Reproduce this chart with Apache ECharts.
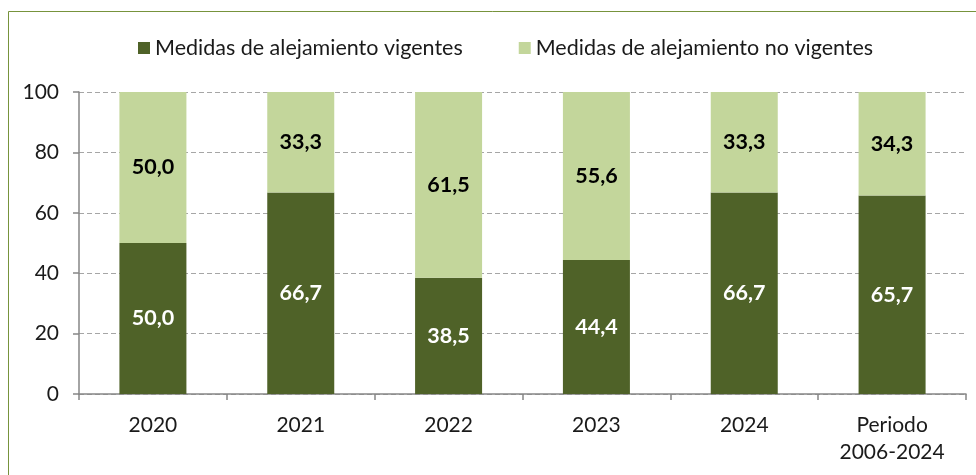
<!DOCTYPE html>
<html>
<head>
    <meta charset="utf-8">
    <title>medidas</title>
    <script src="https://cdn.jsdelivr.net/npm/echarts@6/dist/echarts.min.js"></script>
</head>
<body style="margin:0">
    <div id="main" style="height: 475px; width: 976px;"></div>
    <script type="text/javascript">
    var categorias = ['2020', '2021', '2022', '2023', '2024', 'Periodo\n2006-2024'];
    var vigentes = [50.0, 66.7, 38.5, 44.4, 66.7, 65.7];
    var noVigentes = [50.0, 33.3, 61.5, 55.6, 33.3, 34.3];

    var fuente = 'Lato, "Open Sans", sans-serif';
    var fmt = function(p) { return p.value.toFixed(1).replace('.', ','); };

    var myChart = echarts.init(document.getElementById('main'));
    var option = {
        animation: false,
        textStyle: { fontFamily: fuente },
        graphic: [{
            type: 'rect',
            shape: { x: 8.5, y: 11.5, width: 1000, height: 500 },
            style: { fill: 'none', stroke: '#77933c', lineWidth: 1 }
        }],
        legend: {
            top: 32,
            left: 133,
            itemGap: 56,
            itemWidth: 12,
            itemHeight: 12,
            icon: 'rect',
            textStyle: { fontSize: 21.5, color: '#1a1a1a', fontFamily: fuente }
        },
        grid: {
            left: 79,
            right: 10,
            top: 92,
            bottom: 81
        },
        xAxis: {
            type: 'category',
            data: categorias,
            axisLine: { lineStyle: { color: '#868686', width: 1.5 } },
            axisTick: { show: true, length: 6, lineStyle: { color: '#868686', width: 1.5 } },
            axisLabel: { fontSize: 21, color: '#1a1a1a', margin: 18, lineHeight: 27 }
        },
        yAxis: {
            type: 'value',
            min: 0,
            max: 100,
            interval: 20,
            axisLine: { show: true, lineStyle: { color: '#868686', width: 1.5 } },
            axisTick: { show: true, length: 6, lineStyle: { color: '#868686', width: 1.5 } },
            axisLabel: { fontSize: 21, color: '#1a1a1a', margin: 20 },
            splitLine: { lineStyle: { color: '#a6a6a6', type: [5, 3], width: 1.2 } }
        },
        series: [{
            name: 'Medidas de alejamiento vigentes',
            type: 'bar',
            stack: 'total',
            barWidth: 67,
            data: vigentes,
            itemStyle: { color: '#4f6228' },
            label: {
                show: true,
                position: 'inside',
                formatter: fmt,
                color: '#ffffff',
                fontWeight: 'bold',
                fontSize: 21.5
            }
        }, {
            name: 'Medidas de alejamiento no vigentes',
            type: 'bar',
            stack: 'total',
            barWidth: 67,
            data: noVigentes,
            itemStyle: { color: '#c3d69b' },
            label: {
                show: true,
                position: 'inside',
                formatter: fmt,
                color: '#000000',
                fontWeight: 'bold',
                fontSize: 21.5
            }
        }]
    };
    myChart.setOption(option);
    </script>
</body>
</html>
